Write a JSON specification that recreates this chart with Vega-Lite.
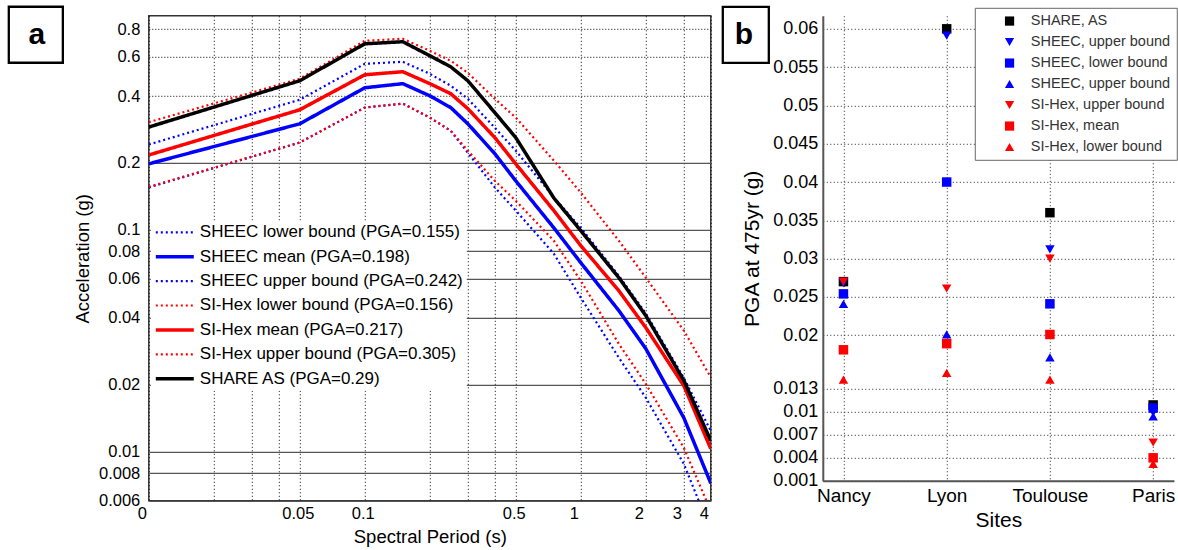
{
  "$schema": "https://vega.github.io/schema/vega-lite/v6.json",
  "background": "white",
  "padding": {"left": 6.8, "top": 4.8, "right": 0, "bottom": 0},
  "bounds": "flush",
  "spacing": 112,
  "config": {
    "font": "Liberation Sans",
    "axis": {"labelFont": "Liberation Sans", "titleFont": "Liberation Sans", "labelColor": "#000", "titleColor": "#000", "titleFontWeight": "normal", "labelOverlap": false},
    "legend": {"labelFont": "Liberation Sans"}
  },
  "resolve": {
    "scale": {"color": "independent", "shape": "independent", "strokeDash": "independent", "strokeWidth": "independent"},
    "legend": {"color": "independent", "shape": "independent", "strokeDash": "independent", "strokeWidth": "independent"}
  },
  "datasets": {
    "spectra": [
      {"series": "SHEEC lower bound (PGA=0.155)", "period": 0.01, "accel": 0.155},
      {"series": "SHEEC lower bound (PGA=0.155)", "period": 0.05, "accel": 0.247},
      {"series": "SHEEC lower bound (PGA=0.155)", "period": 0.1, "accel": 0.355},
      {"series": "SHEEC lower bound (PGA=0.155)", "period": 0.15, "accel": 0.37},
      {"series": "SHEEC lower bound (PGA=0.155)", "period": 0.2, "accel": 0.32},
      {"series": "SHEEC lower bound (PGA=0.155)", "period": 0.25, "accel": 0.279},
      {"series": "SHEEC lower bound (PGA=0.155)", "period": 0.3, "accel": 0.222},
      {"series": "SHEEC lower bound (PGA=0.155)", "period": 0.4, "accel": 0.155},
      {"series": "SHEEC lower bound (PGA=0.155)", "period": 0.5, "accel": 0.122},
      {"series": "SHEEC lower bound (PGA=0.155)", "period": 0.75, "accel": 0.078},
      {"series": "SHEEC lower bound (PGA=0.155)", "period": 1, "accel": 0.0494},
      {"series": "SHEEC lower bound (PGA=0.155)", "period": 1.5, "accel": 0.0265},
      {"series": "SHEEC lower bound (PGA=0.155)", "period": 2, "accel": 0.0175},
      {"series": "SHEEC lower bound (PGA=0.155)", "period": 3, "accel": 0.0088},
      {"series": "SHEEC lower bound (PGA=0.155)", "period": 4, "accel": 0.0044},
      {"series": "SHEEC mean (PGA=0.198)", "period": 0.01, "accel": 0.198},
      {"series": "SHEEC mean (PGA=0.198)", "period": 0.05, "accel": 0.3},
      {"series": "SHEEC mean (PGA=0.198)", "period": 0.1, "accel": 0.436},
      {"series": "SHEEC mean (PGA=0.198)", "period": 0.15, "accel": 0.455},
      {"series": "SHEEC mean (PGA=0.198)", "period": 0.2, "accel": 0.401},
      {"series": "SHEEC mean (PGA=0.198)", "period": 0.25, "accel": 0.355},
      {"series": "SHEEC mean (PGA=0.198)", "period": 0.3, "accel": 0.3},
      {"series": "SHEEC mean (PGA=0.198)", "period": 0.4, "accel": 0.22},
      {"series": "SHEEC mean (PGA=0.198)", "period": 0.5, "accel": 0.166},
      {"series": "SHEEC mean (PGA=0.198)", "period": 0.75, "accel": 0.102},
      {"series": "SHEEC mean (PGA=0.198)", "period": 1, "accel": 0.071},
      {"series": "SHEEC mean (PGA=0.198)", "period": 1.5, "accel": 0.0432},
      {"series": "SHEEC mean (PGA=0.198)", "period": 2, "accel": 0.0291},
      {"series": "SHEEC mean (PGA=0.198)", "period": 3, "accel": 0.0142},
      {"series": "SHEEC mean (PGA=0.198)", "period": 4, "accel": 0.0072},
      {"series": "SHEEC upper bound (PGA=0.242)", "period": 0.01, "accel": 0.242},
      {"series": "SHEEC upper bound (PGA=0.242)", "period": 0.05, "accel": 0.385},
      {"series": "SHEEC upper bound (PGA=0.242)", "period": 0.1, "accel": 0.559},
      {"series": "SHEEC upper bound (PGA=0.242)", "period": 0.15, "accel": 0.571},
      {"series": "SHEEC upper bound (PGA=0.242)", "period": 0.2, "accel": 0.504},
      {"series": "SHEEC upper bound (PGA=0.242)", "period": 0.25, "accel": 0.445},
      {"series": "SHEEC upper bound (PGA=0.242)", "period": 0.3, "accel": 0.389},
      {"series": "SHEEC upper bound (PGA=0.242)", "period": 0.4, "accel": 0.288},
      {"series": "SHEEC upper bound (PGA=0.242)", "period": 0.5, "accel": 0.227},
      {"series": "SHEEC upper bound (PGA=0.242)", "period": 0.75, "accel": 0.14},
      {"series": "SHEEC upper bound (PGA=0.242)", "period": 1, "accel": 0.102},
      {"series": "SHEEC upper bound (PGA=0.242)", "period": 1.5, "accel": 0.062},
      {"series": "SHEEC upper bound (PGA=0.242)", "period": 2, "accel": 0.042},
      {"series": "SHEEC upper bound (PGA=0.242)", "period": 3, "accel": 0.0215},
      {"series": "SHEEC upper bound (PGA=0.242)", "period": 4, "accel": 0.0124},
      {"series": "SI-Hex lower bound (PGA=0.156)", "period": 0.01, "accel": 0.156},
      {"series": "SI-Hex lower bound (PGA=0.156)", "period": 0.05, "accel": 0.247},
      {"series": "SI-Hex lower bound (PGA=0.156)", "period": 0.1, "accel": 0.355},
      {"series": "SI-Hex lower bound (PGA=0.156)", "period": 0.15, "accel": 0.37},
      {"series": "SI-Hex lower bound (PGA=0.156)", "period": 0.2, "accel": 0.32},
      {"series": "SI-Hex lower bound (PGA=0.156)", "period": 0.25, "accel": 0.279},
      {"series": "SI-Hex lower bound (PGA=0.156)", "period": 0.3, "accel": 0.227},
      {"series": "SI-Hex lower bound (PGA=0.156)", "period": 0.4, "accel": 0.166},
      {"series": "SI-Hex lower bound (PGA=0.156)", "period": 0.5, "accel": 0.135},
      {"series": "SI-Hex lower bound (PGA=0.156)", "period": 0.75, "accel": 0.0892},
      {"series": "SI-Hex lower bound (PGA=0.156)", "period": 1, "accel": 0.0589},
      {"series": "SI-Hex lower bound (PGA=0.156)", "period": 1.5, "accel": 0.0306},
      {"series": "SI-Hex lower bound (PGA=0.156)", "period": 2, "accel": 0.0202},
      {"series": "SI-Hex lower bound (PGA=0.156)", "period": 3, "accel": 0.0104},
      {"series": "SI-Hex lower bound (PGA=0.156)", "period": 4, "accel": 0.0054},
      {"series": "SI-Hex mean (PGA=0.217)", "period": 0.01, "accel": 0.217},
      {"series": "SI-Hex mean (PGA=0.217)", "period": 0.05, "accel": 0.347},
      {"series": "SI-Hex mean (PGA=0.217)", "period": 0.1, "accel": 0.499},
      {"series": "SI-Hex mean (PGA=0.217)", "period": 0.15, "accel": 0.515},
      {"series": "SI-Hex mean (PGA=0.217)", "period": 0.2, "accel": 0.455},
      {"series": "SI-Hex mean (PGA=0.217)", "period": 0.25, "accel": 0.41},
      {"series": "SI-Hex mean (PGA=0.217)", "period": 0.3, "accel": 0.351},
      {"series": "SI-Hex mean (PGA=0.217)", "period": 0.4, "accel": 0.26},
      {"series": "SI-Hex mean (PGA=0.217)", "period": 0.5, "accel": 0.198},
      {"series": "SI-Hex mean (PGA=0.217)", "period": 0.75, "accel": 0.122},
      {"series": "SI-Hex mean (PGA=0.217)", "period": 1, "accel": 0.0847},
      {"series": "SI-Hex mean (PGA=0.217)", "period": 1.5, "accel": 0.0531},
      {"series": "SI-Hex mean (PGA=0.217)", "period": 2, "accel": 0.0362},
      {"series": "SI-Hex mean (PGA=0.217)", "period": 3, "accel": 0.0198},
      {"series": "SI-Hex mean (PGA=0.217)", "period": 4, "accel": 0.0103},
      {"series": "SI-Hex upper bound (PGA=0.305)", "period": 0.01, "accel": 0.305},
      {"series": "SI-Hex upper bound (PGA=0.305)", "period": 0.05, "accel": 0.479},
      {"series": "SI-Hex upper bound (PGA=0.305)", "period": 0.1, "accel": 0.71},
      {"series": "SI-Hex upper bound (PGA=0.305)", "period": 0.15, "accel": 0.725},
      {"series": "SI-Hex upper bound (PGA=0.305)", "period": 0.2, "accel": 0.64},
      {"series": "SI-Hex upper bound (PGA=0.305)", "period": 0.25, "accel": 0.577},
      {"series": "SI-Hex upper bound (PGA=0.305)", "period": 0.3, "accel": 0.509},
      {"series": "SI-Hex upper bound (PGA=0.305)", "period": 0.4, "accel": 0.389},
      {"series": "SI-Hex upper bound (PGA=0.305)", "period": 0.5, "accel": 0.32},
      {"series": "SI-Hex upper bound (PGA=0.305)", "period": 0.75, "accel": 0.205},
      {"series": "SI-Hex upper bound (PGA=0.305)", "period": 1, "accel": 0.147},
      {"series": "SI-Hex upper bound (PGA=0.305)", "period": 1.5, "accel": 0.0892},
      {"series": "SI-Hex upper bound (PGA=0.305)", "period": 2, "accel": 0.0608},
      {"series": "SI-Hex upper bound (PGA=0.305)", "period": 3, "accel": 0.0351},
      {"series": "SI-Hex upper bound (PGA=0.305)", "period": 4, "accel": 0.0216},
      {"series": "SHARE AS (PGA=0.29)", "period": 0.01, "accel": 0.29},
      {"series": "SHARE AS (PGA=0.29)", "period": 0.05, "accel": 0.469},
      {"series": "SHARE AS (PGA=0.29)", "period": 0.1, "accel": 0.688},
      {"series": "SHARE AS (PGA=0.29)", "period": 0.15, "accel": 0.703},
      {"series": "SHARE AS (PGA=0.29)", "period": 0.2, "accel": 0.608},
      {"series": "SHARE AS (PGA=0.29)", "period": 0.25, "accel": 0.542},
      {"series": "SHARE AS (PGA=0.29)", "period": 0.3, "accel": 0.469},
      {"series": "SHARE AS (PGA=0.29)", "period": 0.4, "accel": 0.337},
      {"series": "SHARE AS (PGA=0.29)", "period": 0.5, "accel": 0.26},
      {"series": "SHARE AS (PGA=0.29)", "period": 0.75, "accel": 0.139},
      {"series": "SHARE AS (PGA=0.29)", "period": 1, "accel": 0.099},
      {"series": "SHARE AS (PGA=0.29)", "period": 1.5, "accel": 0.0608},
      {"series": "SHARE AS (PGA=0.29)", "period": 2, "accel": 0.041},
      {"series": "SHARE AS (PGA=0.29)", "period": 3, "accel": 0.0209},
      {"series": "SHARE AS (PGA=0.29)", "period": 4, "accel": 0.0112}
    ],
    "pga": [
      {"site": "Nancy", "series": "SHARE, AS", "pga": 0.027},
      {"site": "Lyon", "series": "SHARE, AS", "pga": 0.06},
      {"site": "Toulouse", "series": "SHARE, AS", "pga": 0.036},
      {"site": "Paris", "series": "SHARE, AS", "pga": 0.0109},
      {"site": "Nancy", "series": "SHEEC, upper bound", "pga": 0.0268},
      {"site": "Lyon", "series": "SHEEC, upper bound", "pga": 0.0591},
      {"site": "Toulouse", "series": "SHEEC, upper bound", "pga": 0.0312},
      {"site": "Paris", "series": "SHEEC, upper bound", "pga": 0.0099},
      {"site": "Nancy", "series": "SHEEC, lower bound", "pga": 0.0254},
      {"site": "Lyon", "series": "SHEEC, lower bound", "pga": 0.04},
      {"site": "Toulouse", "series": "SHEEC, lower bound", "pga": 0.0241},
      {"site": "Paris", "series": "SHEEC, lower bound", "pga": 0.0105},
      {"site": "Nancy", "series": "SHEEC, upper bound #2", "pga": 0.0241},
      {"site": "Lyon", "series": "SHEEC, upper bound #2", "pga": 0.0201},
      {"site": "Toulouse", "series": "SHEEC, upper bound #2", "pga": 0.0171},
      {"site": "Paris", "series": "SHEEC, upper bound #2", "pga": 0.0094},
      {"site": "Nancy", "series": "SI-Hex, upper bound", "pga": 0.027},
      {"site": "Lyon", "series": "SI-Hex, upper bound", "pga": 0.0261},
      {"site": "Toulouse", "series": "SI-Hex, upper bound", "pga": 0.03},
      {"site": "Paris", "series": "SI-Hex, upper bound", "pga": 0.006},
      {"site": "Nancy", "series": "SI-Hex, mean", "pga": 0.0181},
      {"site": "Lyon", "series": "SI-Hex, mean", "pga": 0.0189},
      {"site": "Toulouse", "series": "SI-Hex, mean", "pga": 0.0201},
      {"site": "Paris", "series": "SI-Hex, mean", "pga": 0.004},
      {"site": "Nancy", "series": "SI-Hex, lower bound", "pga": 0.0142},
      {"site": "Lyon", "series": "SI-Hex, lower bound", "pga": 0.0151},
      {"site": "Toulouse", "series": "SI-Hex, lower bound", "pga": 0.0142},
      {"site": "Paris", "series": "SI-Hex, lower bound", "pga": 0.0032}
    ]
  },
  "hconcat": [
    {
      "width": 562,
      "height": 485,
      "view": {"stroke": "#333", "strokeWidth": 1.5},
      "layer": [
        {
          "data": {"name": "spectra"},
          "mark": {"type": "line", "clip": true, "strokeCap": "butt", "strokeJoin": "round"},
          "encoding": {
            "x": {
              "field": "period", "type": "quantitative", "title": "Spectral Period (s)",
              "scale": {"type": "log", "domain": [0.01, 4], "nice": false},
              "axis": {
                "values": [0.01, 0.02, 0.03, 0.04, 0.05, 0.1, 0.2, 0.3, 0.4, 0.5, 1, 2, 3, 4],
                "tickCount": 40,
                "labelExpr": "datum.value < 0.011 ? '0' : ((datum.value == 0.05 || datum.value == 0.1 || datum.value == 0.5 || datum.value >= 1) ? format(datum.value, '~g') : '')",
                "grid": true, "gridDash": [1, 2.5], "gridColor": "#000", "gridWidth": 1,
                "ticks": false, "domain": false, "labelFontSize": 16.5, "labelPadding": 5,
                "labelFlush": false, "labelOverlap": false,
                "labelOffset": {"condition": {"test": "datum.value >= 1 || datum.value < 0.011", "value": -7}, "value": -2},
                "titleFontSize": 18.5, "titlePadding": 5
              }
            },
            "y": {
              "field": "accel", "type": "quantitative", "title": "Acceleration (g)",
              "scale": {"type": "log", "domain": [0.006, 0.92], "nice": false},
              "axis": {
                "values": [0.006, 0.008, 0.01, 0.02, 0.04, 0.06, 0.08, 0.1, 0.2, 0.4, 0.6, 0.8],
                "tickCount": 40,
                "labelExpr": "format(datum.value, '~g')",
                "grid": true,
                "gridDash": {"condition": {"test": "datum.value > 0.3", "value": [1, 2]}, "value": []},
                "gridColor": {"condition": {"test": "datum.value > 0.3", "value": "#000"}, "value": "#555"},
                "gridWidth": {"condition": {"test": "datum.value > 0.3", "value": 1}, "value": 1.3},
                "ticks": false, "domain": false, "labelFontSize": 16.5, "labelPadding": 9,
                "labelOverlap": false, "labelFlush": false,
                "titleFontSize": 18.5, "titlePadding": 6
              }
            },
            "color": {
              "field": "series", "type": "nominal",
              "scale": {
                "domain": ["SHEEC lower bound (PGA=0.155)", "SHEEC mean (PGA=0.198)", "SHEEC upper bound (PGA=0.242)", "SI-Hex lower bound (PGA=0.156)", "SI-Hex mean (PGA=0.217)", "SI-Hex upper bound (PGA=0.305)", "SHARE AS (PGA=0.29)"],
                "range": ["#0000ff", "#0000ff", "#0000ff", "#ff0000", "#ff0000", "#ff0000", "#000000"]
              },
              "legend": {
                "title": null, "orient": "none", "legendX": 2, "legendY": 205,
                "fillColor": "white", "padding": 3, "symbolType": "stroke", "symbolSize": 1444,
                "clipHeight": 17,
                "labelFontSize": 17, "labelColor": "#000", "labelOffset": 4, "rowPadding": 6.4,
                "symbolOffset": 0, "labelLimit": 400
              }
            },
            "strokeDash": {
              "field": "series", "type": "nominal",
              "scale": {
                "domain": ["SHEEC lower bound (PGA=0.155)", "SHEEC mean (PGA=0.198)", "SHEEC upper bound (PGA=0.242)", "SI-Hex lower bound (PGA=0.156)", "SI-Hex mean (PGA=0.217)", "SI-Hex upper bound (PGA=0.305)", "SHARE AS (PGA=0.29)"],
                "range": [[2, 3], [1, 0], [2, 3], [2, 3], [1, 0], [2, 3], [1, 0]]
              }
            },
            "strokeWidth": {
              "field": "series", "type": "nominal",
              "scale": {
                "type": "ordinal",
                "domain": ["SHEEC lower bound (PGA=0.155)", "SHEEC mean (PGA=0.198)", "SHEEC upper bound (PGA=0.242)", "SI-Hex lower bound (PGA=0.156)", "SI-Hex mean (PGA=0.217)", "SI-Hex upper bound (PGA=0.305)", "SHARE AS (PGA=0.29)"],
                "range": [2.2, 3.5, 2.2, 2.2, 3.5, 2.2, 3.5]
              }
            }
          }
        },
        {
          "data": {"values": [{"panel": "a"}]},
          "mark": {"type": "rect", "fill": "white", "stroke": "#000", "strokeWidth": 2.3, "clip": false},
          "encoding": {
            "x": {"datum": 0.002248}, "x2": {"datum": 0.004},
            "y": {"datum": 1.0104}, "y2": {"datum": 0.5653}
          }
        },
        {
          "data": {"values": [{"panel": "a"}]},
          "mark": {"type": "text", "fontSize": 30, "fontWeight": "bold", "align": "center", "baseline": "alphabetic", "color": "#000", "clip": false},
          "encoding": {
            "x": {"datum": 0.00303}, "y": {"datum": 0.6882},
            "text": {"field": "panel"}
          }
        }
      ]
    },
    {
      "width": 351,
      "height": 465,
      "view": {"stroke": null},
      "layer": [
        {
          "data": {"name": "pga"},
          "mark": {"type": "point", "filled": true, "size": 90, "opacity": 1},
          "encoding": {
            "x": {
              "field": "site", "type": "nominal", "title": "Sites",
              "sort": ["Nancy", "Lyon", "Toulouse", "Paris"],
              "scale": {"type": "point", "padding": 0.2},
              "axis": {
                "labelAngle": 0, "grid": true, "gridDash": [1, 2.5], "gridColor": "#222", "gridWidth": 1, "gridOpacity": 1, "ticks": false,
                "domain": true, "domainColor": "#555", "domainWidth": 2, "zindex": 0,
                "labelFontSize": 19, "labelPadding": 6, "titleFontSize": 21, "titlePadding": 4
              }
            },
            "y": {
              "field": "pga", "type": "quantitative", "title": "PGA at 475yr (g)",
              "scale": {"domain": [0.001, 0.0617], "nice": false, "zero": false},
              "axis": {
                "values": [0.001, 0.004, 0.007, 0.01, 0.013, 0.02, 0.025, 0.03, 0.035, 0.04, 0.045, 0.05, 0.055, 0.06],
                "tickCount": 40,
                "labelExpr": "format(datum.value, '~g')",
                "grid": true, "gridDash": [1, 2.5], "gridColor": "#222", "gridWidth": 1, "gridOpacity": 1, "ticks": false,
                "domain": true, "domainColor": "#555", "domainWidth": 2, "zindex": 0,
                "labelFontSize": 18, "labelPadding": 5, "labelOverlap": false, "labelFlush": false,
                "titleFontSize": 21, "titlePadding": 10
              }
            },
            "color": {
              "field": "series", "type": "nominal",
              "scale": {
                "domain": ["SHARE, AS", "SHEEC, upper bound", "SHEEC, lower bound", "SHEEC, upper bound #2", "SI-Hex, upper bound", "SI-Hex, mean", "SI-Hex, lower bound"],
                "range": ["#000000", "#0000ff", "#0000ff", "#0000ff", "#ff0000", "#ff0000", "#ff0000"]
              },
              "legend": {
                "title": null, "orient": "none", "legendX": 152, "legendY": -8,
                "fillColor": "white", "strokeColor": "#666", "padding": 6,
                "symbolSize": 85, "symbolOffset": 21.5, "labelOffset": 14,
                "labelFontSize": 14.5, "labelColor": "#333", "rowPadding": 6, "labelLimit": 300,
                "labelExpr": "replace(datum.label, ' #2', '')"
              }
            },
            "shape": {
              "field": "series", "type": "nominal",
              "scale": {
                "domain": ["SHARE, AS", "SHEEC, upper bound", "SHEEC, lower bound", "SHEEC, upper bound #2", "SI-Hex, upper bound", "SI-Hex, mean", "SI-Hex, lower bound"],
                "range": ["square", "triangle-down", "square", "triangle-up", "triangle-down", "square", "triangle-up"]
              }
            }
          }
        },
        {
          "data": {"values": [{"panel": "b"}]},
          "mark": {"type": "rect", "fill": "white", "stroke": "#000", "strokeWidth": 2.3, "clip": false},
          "encoding": {
            "x": {"datum": -0.2849, "type": "quantitative", "scale": {"domain": [0, 1], "nice": false, "zero": false}, "axis": null},
            "x2": {"datum": -0.1538},
            "y": {"datum": 0.06287}, "y2": {"datum": 0.05556}
          }
        },
        {
          "data": {"values": [{"panel": "b"}]},
          "mark": {"type": "text", "fontSize": 30, "fontWeight": "bold", "align": "center", "baseline": "alphabetic", "color": "#000", "clip": false},
          "encoding": {
            "x": {"datum": -0.2251, "type": "quantitative", "scale": {"domain": [0, 1], "nice": false, "zero": false}, "axis": null},
            "y": {"datum": 0.05804},
            "text": {"field": "panel"}
          }
        }
      ],
      "resolve": {"scale": {"x": "independent"}}
    }
  ]
}
